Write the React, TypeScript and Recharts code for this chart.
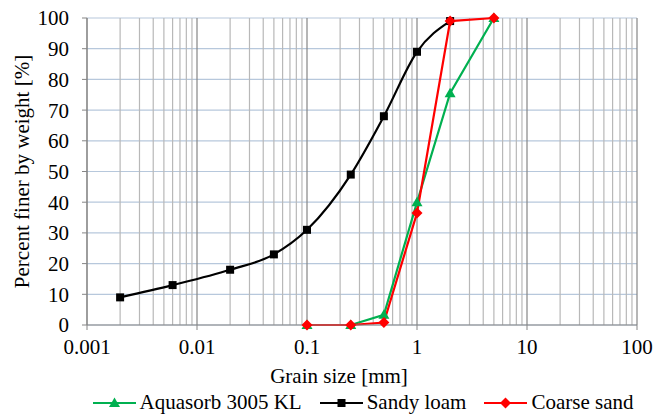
import React from 'react';
import {
  LineChart,
  Line,
  XAxis,
  YAxis,
  CartesianGrid,
  ReferenceLine,
  Legend,
} from 'recharts';

// grain size [mm] and percent finer [%]
const aquasorbSize = [0.1, 0.25, 0.5, 1, 2, 5];
const aquasorbPct = [0, 0, 3.3, 40, 75.5, 100];

const sandyLoamSize = [0.002, 0.006, 0.02, 0.05, 0.1, 0.25, 0.5, 1, 2];
const sandyLoamPct = [9, 13, 18, 23, 31, 49, 68, 89, 99];

const coarseSandSize = [0.1, 0.25, 0.5, 1, 2, 5];
const coarseSandPct = [0, 0, 0.8, 36.5, 99, 100];

const xTicks = [0.001, 0.01, 0.1, 1, 10, 100];
const yTicks = [0, 10, 20, 30, 40, 50, 60, 70, 80, 90, 100];
const minorMultipliers = [2, 3, 4, 5, 6, 7, 8, 9];

const seriesNames = ['Aquasorb 3005 KL', 'Sandy loam', 'Coarse sand'];

const GREEN = '#00b050';
const RED = '#ff0000';
const BLACK = '#000000';
const FONT = "'Liberation Serif'";
const FS = 21;

const toRows = (xs: number[], ys: number[]) => xs.map((size, i) => ({ size, pct: ys[i] }));

const aquasorbData = toRows(aquasorbSize, aquasorbPct);
const sandyLoamData = toRows(sandyLoamSize, sandyLoamPct);
const coarseSandData = toRows(coarseSandSize, coarseSandPct);

// minor log gridlines between the decades
const minorLines: number[] = [];
xTicks.slice(0, -1).forEach((d) => minorMultipliers.forEach((m) => minorLines.push(+(d * m).toPrecision(3))));

const Triangle = ({ cx, cy, fill }: any) =>
  cx == null ? null : <path d={`M${cx},${cy - 5.5} L${cx + 5.5},${cy + 4} L${cx - 5.5},${cy + 4} Z`} fill={fill} />;

const Square = ({ cx, cy, fill }: any) =>
  cx == null ? null : <rect x={cx - 4} y={cy - 4} width={8} height={8} fill={fill} />;

const Diamond = ({ cx, cy, fill }: any) =>
  cx == null ? null : <path d={`M${cx},${cy - 5.5} L${cx + 5.5},${cy} L${cx},${cy + 5.5} L${cx - 5.5},${cy} Z`} fill={fill} />;

const legendItems = [
  { name: seriesNames[0], color: GREEN, Shape: Triangle },
  { name: seriesNames[1], color: BLACK, Shape: Square },
  { name: seriesNames[2], color: RED, Shape: Diamond },
];

const LegendContent = () => (
  <div style={{ display: 'flex', justifyContent: 'center', alignItems: 'center', fontFamily: FONT, fontSize: FS, color: '#000' }}>
    {legendItems.map(({ name, color, Shape }, i) => (
      <div key={name} style={{ display: 'flex', alignItems: 'center', marginRight: i < 2 ? 18 : 0 }}>
        <svg width={43} height={14} style={{ marginRight: 4 }}>
          <line x1={0} y1={7} x2={43} y2={7} stroke={color} strokeWidth={2.2} />
          <Shape cx={21.5} cy={7} fill={color} />
        </svg>
        <span>{name}</span>
      </div>
    ))}
  </div>
);

const YLabel = ({ viewBox }: any) => {
  const x = viewBox.x + 22;
  const y = viewBox.y + viewBox.height / 2;
  return (
    <text x={x} y={y} transform={`rotate(-90, ${x}, ${y})`} textAnchor="middle" dominantBaseline="central"
      style={{ fontFamily: FONT }} fontSize={FS} fill="#000">
      Percent finer by weight [%]
    </text>
  );
};

export default function App() {
  return (
    <div style={{ position: 'absolute', left: 0, top: 0, width: 655, height: 420, background: '#fff', fontFamily: FONT }}>
      <LineChart width={655} height={420} margin={{ top: 18, right: 18, left: 0, bottom: 0 }} style={{ fontFamily: FONT }}>
        <CartesianGrid vertical={false} stroke="#b7c8dc" strokeWidth={1.2} />
        {minorLines.map((v) => (
          <ReferenceLine key={`m${v}`} x={v} stroke="#b8b8b8" strokeWidth={1.2} />
        ))}
        {xTicks.map((v) => (
          <ReferenceLine key={`d${v}`} x={v} stroke="#858585" strokeWidth={1.2} />
        ))}
        <XAxis
          type="number"
          dataKey="size"
          scale="log"
          domain={[0.001, 100]}
          ticks={xTicks}
          allowDataOverflow
          tickFormatter={(v: number) => String(v)}
          height={65}
          stroke="#858585"
          tickSize={5}
          tickMargin={9}
          tick={{ fill: '#000', fontSize: FS, style: { fontFamily: FONT } }}
          label={{ value: 'Grain size [mm]', position: 'insideBottom', offset: 7, dx: -23, fill: '#000', fontSize: FS, style: { fontFamily: FONT } }}
        />
        <YAxis
          type="number"
          dataKey="pct"
          domain={[0, 100]}
          ticks={yTicks}
          width={87}
          stroke="#858585"
          tickSize={5}
          tickMargin={13}
          tick={{ fill: '#000', fontSize: FS, style: { fontFamily: FONT } }}
          label={{ content: YLabel }}
        />
        <Legend verticalAlign="bottom" content={LegendContent} wrapperStyle={{ left: 88, width: 550, height: 30, bottom: 0 }} />
        <Line data={aquasorbData} dataKey="pct" name={seriesNames[0]} type="linear" stroke={GREEN} strokeWidth={2.2}
          dot={<Triangle fill={GREEN} />} isAnimationActive={false} />
        <Line data={sandyLoamData} dataKey="pct" name={seriesNames[1]} type="monotone" stroke={BLACK} strokeWidth={2.2}
          dot={<Square fill={BLACK} />} isAnimationActive={false} />
        <Line data={coarseSandData} dataKey="pct" name={seriesNames[2]} type="linear" stroke={RED} strokeWidth={2.2}
          dot={<Diamond fill={RED} />} isAnimationActive={false} />
      </LineChart>
    </div>
  );
}
